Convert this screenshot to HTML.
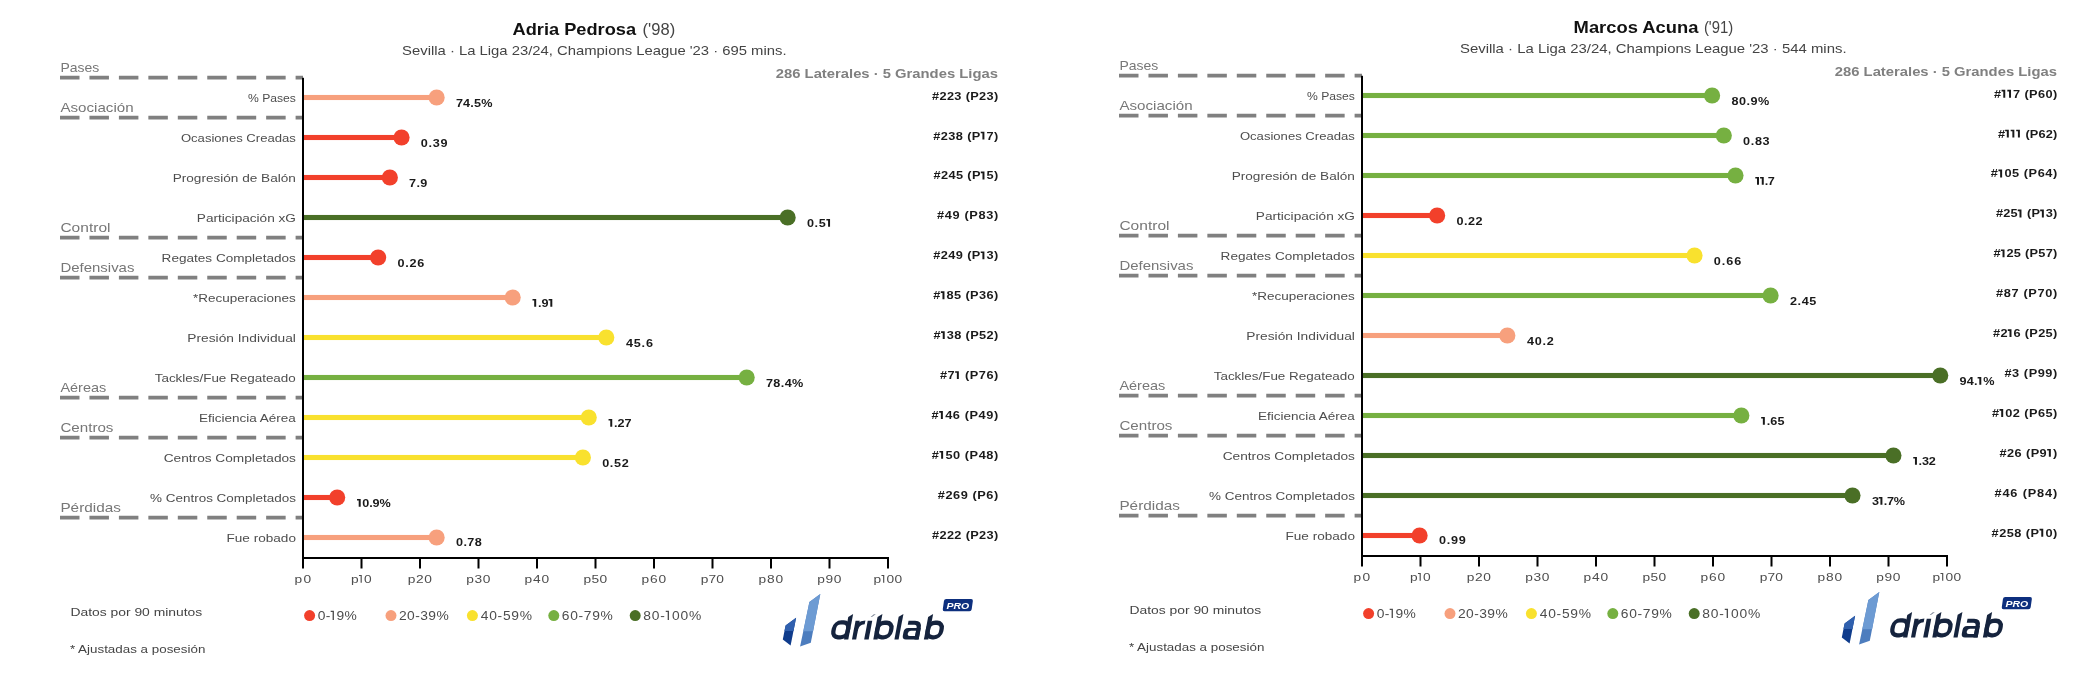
<!DOCTYPE html>
<html><head><meta charset="utf-8"><style>
html,body{margin:0;padding:0;background:#fff;width:2083px;height:674px;overflow:hidden}
svg{display:block;will-change:transform}
text{font-family:"Liberation Sans",sans-serif}
</style></head><body>
<svg width="2083" height="674" viewBox="0 0 2083 674">
<rect width="2083" height="674" fill="#fff"/>
<g transform="translate(0,0)"><text transform="translate(512.50,34.80) scale(1.1400,1)" font-size="16" fill="#111" font-weight="bold">Adria Pedrosa</text><text transform="translate(642.60,34.80) scale(1.0348,1)" font-size="16" fill="#444">('98)</text><text transform="translate(402.10,54.60) scale(1.1688,1)" font-size="12.7" fill="#444">Sevilla · La Liga 23/24, Champions League '23 · 695 mins.</text><text transform="translate(775.80,77.90) scale(1.1395,1)" font-size="13" fill="#808080" font-weight="bold">286 Laterales · 5 Grandes Ligas</text><line x1="60" y1="77.6" x2="303" y2="77.6" stroke="#808080" stroke-width="3.6" stroke-dasharray="19.5 9.95"/><text transform="translate(60.40,71.80) scale(1.1198,1)" font-size="12.5" fill="#777">Pases</text><line x1="60" y1="117.6" x2="303" y2="117.6" stroke="#808080" stroke-width="3.6" stroke-dasharray="19.5 9.95"/><text transform="translate(60.40,111.80) scale(1.2109,1)" font-size="12.5" fill="#777">Asociación</text><line x1="60" y1="237.6" x2="303" y2="237.6" stroke="#808080" stroke-width="3.6" stroke-dasharray="19.5 9.95"/><text transform="translate(60.40,231.80) scale(1.2432,1)" font-size="12.5" fill="#777">Control</text><line x1="60" y1="277.6" x2="303" y2="277.6" stroke="#808080" stroke-width="3.6" stroke-dasharray="19.5 9.95"/><text transform="translate(60.40,271.80) scale(1.1983,1)" font-size="12.5" fill="#777">Defensivas</text><line x1="60" y1="397.6" x2="303" y2="397.6" stroke="#808080" stroke-width="3.6" stroke-dasharray="19.5 9.95"/><text transform="translate(60.40,391.80) scale(1.1591,1)" font-size="12.5" fill="#777">Aéreas</text><line x1="60" y1="437.6" x2="303" y2="437.6" stroke="#808080" stroke-width="3.6" stroke-dasharray="19.5 9.95"/><text transform="translate(60.40,431.80) scale(1.2134,1)" font-size="12.5" fill="#777">Centros</text><line x1="60" y1="517.6" x2="303" y2="517.6" stroke="#808080" stroke-width="3.6" stroke-dasharray="19.5 9.95"/><text transform="translate(60.40,511.80) scale(1.2262,1)" font-size="12.5" fill="#777">Pérdidas</text><rect x="304" y="94.95" width="132.65" height="5.1" fill="#F7A07D"/><circle cx="436.65" cy="97.50" r="8.05" fill="#F7A07D"/><text transform="translate(248.00,101.90) scale(1.1058,1)" font-size="11" fill="#4d4d4d">% Pases</text><text transform="translate(455.91,106.80) scale(1.1500,1)" x="0.00 6.25 12.50 15.69 21.94" font-size="11" fill="#1a1a1a" font-weight="bold" xml:space="preserve">74.5%</text><text transform="translate(932.08,99.66) scale(1.1600,1)" x="0.00 6.41 12.81 19.22 25.63 28.97 32.93 40.55 46.96 53.37" font-size="11" fill="#1a1a1a" font-weight="bold" xml:space="preserve">#223 (P23)</text><rect x="304" y="134.95" width="97.55" height="5.1" fill="#F2402B"/><circle cx="401.55" cy="137.50" r="8.05" fill="#F2402B"/><text transform="translate(180.90,141.90) scale(1.1915,1)" font-size="11" fill="#4d4d4d">Ocasiones Creadas</text><text transform="translate(420.86,146.80) scale(1.1500,1)" x="0.00 6.74 10.42 17.15" font-size="11" fill="#1a1a1a" font-weight="bold" xml:space="preserve">0.39</text><text transform="translate(933.28,139.57) scale(1.1600,1)" x="0.00 6.46 12.91 19.37 25.82 29.22 33.22" font-size="11" fill="#1a1a1a" font-weight="bold" xml:space="preserve">#238 (P</text><path d="M980.72,131.69L984.40,131.69L984.40,139.57L982.42,139.57L982.42,133.34L980.72,133.34Z" fill="#1a1a1a"/><text transform="translate(986.50,139.57) scale(1.1600,1)" x="0.00 6.46" font-size="11" fill="#1a1a1a" font-weight="bold" xml:space="preserve">7)</text><rect x="304" y="174.95" width="85.85" height="5.1" fill="#F2402B"/><circle cx="389.85" cy="177.50" r="8.05" fill="#F2402B"/><text transform="translate(172.70,181.90) scale(1.2369,1)" font-size="11" fill="#4d4d4d">Progresión de Balón</text><text transform="translate(409.11,186.80) scale(1.1500,1)" x="0.00 6.39 9.72" font-size="11" fill="#1a1a1a" font-weight="bold" xml:space="preserve">7.9</text><text transform="translate(933.58,179.48) scale(1.1600,1)" x="0.00 6.43 12.85 19.28 25.71 29.07 33.05" font-size="11" fill="#1a1a1a" font-weight="bold" xml:space="preserve">#245 (P</text><path d="M980.79,171.60L984.47,171.60L984.47,179.48L982.49,179.48L982.49,173.25L980.79,173.25Z" fill="#1a1a1a"/><text transform="translate(986.53,179.48) scale(1.1600,1)" x="0.00 6.43" font-size="11" fill="#1a1a1a" font-weight="bold" xml:space="preserve">5)</text><rect x="304" y="214.95" width="483.65" height="5.1" fill="#4A6F26"/><circle cx="787.65" cy="217.50" r="8.05" fill="#4A6F26"/><text transform="translate(196.80,221.90) scale(1.2386,1)" font-size="11" fill="#4d4d4d">Participación xG</text><text transform="translate(806.96,226.80) scale(1.1500,1)" x="0.00 6.65 10.23" font-size="11" fill="#1a1a1a" font-weight="bold" xml:space="preserve">0.5</text><path d="M826.37,218.92L830.05,218.92L830.05,226.80L828.07,226.80L828.07,220.57L826.37,220.57Z" fill="#1a1a1a"/><text transform="translate(936.98,219.39) scale(1.1600,1)" x="0.00 6.68 13.36 20.04 23.66 27.88 35.78 42.46 49.14" font-size="11" fill="#1a1a1a" font-weight="bold" xml:space="preserve">#49 (P83)</text><rect x="304" y="254.95" width="74.15" height="5.1" fill="#F2402B"/><circle cx="378.15" cy="257.50" r="8.05" fill="#F2402B"/><text transform="translate(161.60,261.90) scale(1.2348,1)" font-size="11" fill="#4d4d4d">Regates Completados</text><text transform="translate(397.46,266.80) scale(1.1500,1)" x="0.00 6.74 10.41 17.14" font-size="11" fill="#1a1a1a" font-weight="bold" xml:space="preserve">0.26</text><text transform="translate(933.28,259.30) scale(1.1600,1)" x="0.00 6.46 12.91 19.37 25.82 29.22 33.22" font-size="11" fill="#1a1a1a" font-weight="bold" xml:space="preserve">#249 (P</text><path d="M980.72,251.42L984.40,251.42L984.40,259.30L982.42,259.30L982.42,253.07L980.72,253.07Z" fill="#1a1a1a"/><text transform="translate(986.50,259.30) scale(1.1600,1)" x="0.00 6.46" font-size="11" fill="#1a1a1a" font-weight="bold" xml:space="preserve">3)</text><rect x="304" y="294.95" width="208.70" height="5.1" fill="#F7A07D"/><circle cx="512.70" cy="297.50" r="8.05" fill="#F7A07D"/><text transform="translate(193.10,301.90) scale(1.2283,1)" font-size="11" fill="#4d4d4d">*Recuperaciones</text><path d="M532.50,298.92L536.19,298.92L536.19,306.80L534.21,306.80L534.21,300.57L532.50,300.57Z" fill="#1a1a1a"/><text transform="translate(537.95,306.80) scale(1.1500,1)" x="0.00 3.11" font-size="11" fill="#1a1a1a" font-weight="bold" xml:space="preserve">.9</text><path d="M548.62,298.92L552.30,298.92L552.30,306.80L550.32,306.80L550.32,300.57L548.62,300.57Z" fill="#1a1a1a"/><text transform="translate(933.28,299.21) scale(1.1600,1)" x="0.00" font-size="11" fill="#1a1a1a" font-weight="bold" xml:space="preserve">#</text><path d="M940.77,291.33L944.46,291.33L944.46,299.21L942.48,299.21L942.48,292.98L940.77,292.98Z" fill="#1a1a1a"/><text transform="translate(946.55,299.21) scale(1.1600,1)" x="0.00 6.46 12.91 16.31 20.31 27.98 34.44 40.89" font-size="11" fill="#1a1a1a" font-weight="bold" xml:space="preserve">85 (P36)</text><rect x="304" y="334.95" width="302.30" height="5.1" fill="#F9E12E"/><circle cx="606.30" cy="337.50" r="8.05" fill="#F9E12E"/><text transform="translate(187.30,341.90) scale(1.2518,1)" font-size="11" fill="#4d4d4d">Presión Individual</text><text transform="translate(625.91,346.80) scale(1.1500,1)" x="0.00 6.82 13.64 17.40" font-size="11" fill="#1a1a1a" font-weight="bold" xml:space="preserve">45.6</text><text transform="translate(933.58,339.12) scale(1.1600,1)" x="0.00" font-size="11" fill="#1a1a1a" font-weight="bold" xml:space="preserve">#</text><path d="M941.04,331.24L944.72,331.24L944.72,339.12L942.74,339.12L942.74,332.89L941.04,332.89Z" fill="#1a1a1a"/><text transform="translate(946.79,339.12) scale(1.1600,1)" x="0.00 6.43 12.85 16.22 20.19 27.84 34.26 40.69" font-size="11" fill="#1a1a1a" font-weight="bold" xml:space="preserve">38 (P52)</text><rect x="304" y="374.95" width="442.70" height="5.1" fill="#76B041"/><circle cx="746.70" cy="377.50" r="8.05" fill="#76B041"/><text transform="translate(154.70,381.90) scale(1.2227,1)" font-size="11" fill="#4d4d4d">Tackles/Fue Regateado</text><text transform="translate(765.96,386.80) scale(1.1500,1)" x="0.00 6.45 12.89 16.27 22.72" font-size="11" fill="#1a1a1a" font-weight="bold" xml:space="preserve">78.4%</text><text transform="translate(939.98,379.03) scale(1.1600,1)" x="0.00 6.54" font-size="11" fill="#1a1a1a" font-weight="bold" xml:space="preserve">#7</text><path d="M955.16,371.15L958.84,371.15L958.84,379.03L956.86,379.03L956.86,372.80L955.16,372.80Z" fill="#1a1a1a"/><text transform="translate(961.04,379.03) scale(1.1600,1)" x="0.00 3.48 7.57 15.32 21.87 28.41" font-size="11" fill="#1a1a1a" font-weight="bold" xml:space="preserve"> (P76)</text><rect x="304" y="414.95" width="284.75" height="5.1" fill="#F9E12E"/><circle cx="588.75" cy="417.50" r="8.05" fill="#F9E12E"/><text transform="translate(199.10,421.90) scale(1.2283,1)" font-size="11" fill="#4d4d4d">Eficiencia Aérea</text><path d="M608.55,418.92L612.24,418.92L612.24,426.80L610.25,426.80L610.25,420.57L608.55,420.57Z" fill="#1a1a1a"/><text transform="translate(613.93,426.80) scale(1.1500,1)" x="0.00 3.05 9.16" font-size="11" fill="#1a1a1a" font-weight="bold" xml:space="preserve">.27</text><text transform="translate(931.48,418.94) scale(1.1600,1)" x="0.00" font-size="11" fill="#1a1a1a" font-weight="bold" xml:space="preserve">#</text><path d="M939.17,411.06L942.86,411.06L942.86,418.94L940.88,418.94L940.88,412.71L939.17,412.71Z" fill="#1a1a1a"/><text transform="translate(945.15,418.94) scale(1.1600,1)" x="0.00 6.63 13.26 16.82 21.00 28.84 35.47 42.10" font-size="11" fill="#1a1a1a" font-weight="bold" xml:space="preserve">46 (P49)</text><rect x="304" y="454.95" width="278.90" height="5.1" fill="#F9E12E"/><circle cx="582.90" cy="457.50" r="8.05" fill="#F9E12E"/><text transform="translate(163.70,461.90) scale(1.2436,1)" font-size="11" fill="#4d4d4d">Centros Completados</text><text transform="translate(602.21,466.80) scale(1.1500,1)" x="0.00 6.66 10.26 16.93" font-size="11" fill="#1a1a1a" font-weight="bold" xml:space="preserve">0.52</text><text transform="translate(931.78,458.85) scale(1.1600,1)" x="0.00" font-size="11" fill="#1a1a1a" font-weight="bold" xml:space="preserve">#</text><path d="M939.44,450.97L943.12,450.97L943.12,458.85L941.14,458.85L941.14,452.62L939.44,452.62Z" fill="#1a1a1a"/><text transform="translate(945.39,458.85) scale(1.1600,1)" x="0.00 6.60 13.20 16.74 20.88 28.70 35.30 41.90" font-size="11" fill="#1a1a1a" font-weight="bold" xml:space="preserve">50 (P48)</text><rect x="304" y="494.95" width="33.20" height="5.1" fill="#F2402B"/><circle cx="337.20" cy="497.50" r="8.05" fill="#F2402B"/><text transform="translate(150.10,501.90) scale(1.2238,1)" font-size="11" fill="#4d4d4d">% Centros Completados</text><path d="M357.00,498.92L360.69,498.92L360.69,506.80L358.71,506.80L358.71,500.57L357.00,500.57Z" fill="#1a1a1a"/><text transform="translate(362.27,506.80) scale(1.1500,1)" x="0.00 6.01 8.96 14.97" font-size="11" fill="#1a1a1a" font-weight="bold" xml:space="preserve">0.9%</text><text transform="translate(937.78,498.76) scale(1.1600,1)" x="0.00 6.59 13.19 19.78 26.38 29.91 34.05 41.86 48.45" font-size="11" fill="#1a1a1a" font-weight="bold" xml:space="preserve">#269 (P6)</text><rect x="304" y="534.95" width="132.65" height="5.1" fill="#F7A07D"/><circle cx="436.65" cy="537.50" r="8.05" fill="#F7A07D"/><text transform="translate(226.50,541.90) scale(1.2352,1)" font-size="11" fill="#4d4d4d">Fue robado</text><text transform="translate(455.96,545.80) scale(1.1500,1)" x="0.00 6.48 9.91 16.39" font-size="11" fill="#1a1a1a" font-weight="bold" xml:space="preserve">0.78</text><text transform="translate(932.08,538.67) scale(1.1600,1)" x="0.00 6.41 12.81 19.22 25.63 28.97 32.93 40.55 46.96 53.37" font-size="11" fill="#1a1a1a" font-weight="bold" xml:space="preserve">#222 (P23)</text><rect x="302" y="77.8" width="2" height="481.2" fill="#000"/><rect x="302" y="557" width="587" height="2" fill="#000"/><rect x="302.0" y="557" width="2" height="11.5" fill="#000"/><text transform="translate(294.52,582.80) scale(1.2500,1)" x="0.00 7.18" font-size="11" fill="#4d4d4d" xml:space="preserve">p0</text><rect x="360.5" y="557" width="2" height="11.5" fill="#000"/><text transform="translate(351.02,582.80) scale(1.2500,1)" x="0.00" font-size="11" fill="#4d4d4d" xml:space="preserve">p</text><path d="M358.96,574.92L361.77,574.92L361.77,582.80L360.61,582.80L360.61,576.02L358.96,576.02Z" fill="#4d4d4d"/><text transform="translate(363.99,582.80) scale(1.2500,1)" x="0.00" font-size="11" fill="#4d4d4d" xml:space="preserve">0</text><rect x="419.0" y="557" width="2" height="11.5" fill="#000"/><text transform="translate(407.87,582.80) scale(1.2500,1)" x="0.00 6.51 13.02" font-size="11" fill="#4d4d4d" xml:space="preserve">p20</text><rect x="477.5" y="557" width="2" height="11.5" fill="#000"/><text transform="translate(466.37,582.80) scale(1.2500,1)" x="0.00 6.51 13.02" font-size="11" fill="#4d4d4d" xml:space="preserve">p30</text><rect x="536.0" y="557" width="2" height="11.5" fill="#000"/><text transform="translate(524.62,582.80) scale(1.2500,1)" x="0.00 6.71 13.42" font-size="11" fill="#4d4d4d" xml:space="preserve">p40</text><rect x="594.5" y="557" width="2" height="11.5" fill="#000"/><text transform="translate(583.42,582.80) scale(1.2500,1)" x="0.00 6.47 12.94" font-size="11" fill="#4d4d4d" xml:space="preserve">p50</text><rect x="653.0" y="557" width="2" height="11.5" fill="#000"/><text transform="translate(641.62,582.80) scale(1.2500,1)" x="0.00 6.71 13.42" font-size="11" fill="#4d4d4d" xml:space="preserve">p60</text><rect x="711.5" y="557" width="2" height="11.5" fill="#000"/><text transform="translate(700.77,582.80) scale(1.2500,1)" x="0.00 6.19 12.38" font-size="11" fill="#4d4d4d" xml:space="preserve">p70</text><rect x="770.0" y="557" width="2" height="11.5" fill="#000"/><text transform="translate(758.62,582.80) scale(1.2500,1)" x="0.00 6.71 13.42" font-size="11" fill="#4d4d4d" xml:space="preserve">p80</text><rect x="828.5" y="557" width="2" height="11.5" fill="#000"/><text transform="translate(817.17,582.80) scale(1.2500,1)" x="0.00 6.67 13.34" font-size="11" fill="#4d4d4d" xml:space="preserve">p90</text><rect x="887.0" y="557" width="2" height="11.5" fill="#000"/><text transform="translate(873.47,582.80) scale(1.2500,1)" x="0.00" font-size="11" fill="#4d4d4d" xml:space="preserve">p</text><path d="M881.47,574.92L884.27,574.92L884.27,582.80L883.12,582.80L883.12,576.02L881.47,576.02Z" fill="#4d4d4d"/><text transform="translate(886.55,582.80) scale(1.2500,1)" x="0.00 6.40" font-size="11" fill="#4d4d4d" xml:space="preserve">00</text><circle cx="309.6" cy="615.6" r="5.5" fill="#F2402B"/><text transform="translate(317.76,619.90) scale(1.0800,1)" x="0.00 7.41" font-size="12.8" fill="#4d4d4d" xml:space="preserve">0-</text><path d="M330.68,610.74L333.94,610.74L333.94,619.90L332.60,619.90L332.60,612.02L330.68,612.02Z" fill="#4d4d4d"/><text transform="translate(336.49,619.90) scale(1.0800,1)" x="0.00 7.41" font-size="12.8" fill="#4d4d4d" xml:space="preserve">9%</text><circle cx="391.0" cy="615.6" r="5.5" fill="#F7A07D"/><text transform="translate(399.01,619.90) scale(1.0800,1)" x="0.00 7.51 15.03 19.68 27.20 34.71" font-size="12.8" fill="#4d4d4d" xml:space="preserve">20-39%</text><circle cx="472.4" cy="615.6" r="5.5" fill="#F9E12E"/><text transform="translate(480.78,619.90) scale(1.0800,1)" x="0.00 7.78 15.55 20.48 28.25 36.03" font-size="12.8" fill="#4d4d4d" xml:space="preserve">40-59%</text><circle cx="553.8" cy="615.6" r="5.5" fill="#76B041"/><text transform="translate(561.79,619.90) scale(1.0800,1)" x="0.00 7.76 15.51 20.41 28.17 35.93" font-size="12.8" fill="#4d4d4d" xml:space="preserve">60-79%</text><circle cx="635.2" cy="615.6" r="5.5" fill="#4A6F26"/><text transform="translate(643.31,619.90) scale(1.0800,1)" x="0.00 7.88 15.76" font-size="12.8" fill="#4d4d4d" xml:space="preserve">80-</text><path d="M665.75,610.74L669.01,610.74L669.01,619.90L667.67,619.90L667.67,612.02L665.75,612.02Z" fill="#4d4d4d"/><text transform="translate(672.08,619.90) scale(1.0800,1)" x="0.00 7.88 15.76" font-size="12.8" fill="#4d4d4d" xml:space="preserve">00%</text><text transform="translate(70.40,615.80) scale(1.2615,1)" font-size="11" fill="#444">Datos por 90 minutos</text><text transform="translate(69.90,652.60) scale(1.2175,1)" font-size="11" fill="#444">* Ajustadas a posesión</text><polygon points="796.1,617.8 785.6,625.6 782.8,639.5 790.6,645.6" fill="#0F3C8C"/><polygon points="796.1,617.8 785.6,625.6 784.51,631 793.49,631" fill="#3060AE"/><polygon points="820.3,594.0 809.4,602.0 800.1,646.6 810.8,642.8" fill="#4D7DBE"/><polygon points="820.3,594.0 809.4,602.0 803.31,631.2 813.06,631.2" fill="#6D9BD3"/><g transform="translate(0,639.4) skewX(-10.76) translate(0,-639.4)"><rect x="831.85" y="622.45" width="14.30" height="14.90" rx="6" fill="none" stroke="#15233D" stroke-width="4.3"/><polygon points="844.0,617.1 848.3,614.0 848.3,639.5 844.0,639.5" fill="#15233D"/><rect x="852.0" y="620.8" width="4.2" height="18.7" fill="#15233D"/><path d="M854.1,631 Q854.1,622.3 861.8,622.3" fill="none" stroke="#15233D" stroke-width="3.8"/><rect x="864.2" y="620.8" width="4.5" height="18.7" fill="#15233D"/><polygon points="866.4,616.9 867.6,616.9 871.0,614.2 869.0,614.2" fill="#7d8696"/><rect x="875.45" y="622.75" width="13.90" height="14.60" rx="6" fill="none" stroke="#15233D" stroke-width="4.3"/><polygon points="873.3,617.1 877.6,614.0 877.6,639.5 873.3,639.5" fill="#15233D"/><polygon points="894.4,616.8 898.6,614.0 898.6,639.5 894.4,639.5" fill="#15233D"/><path d="M905.0,622.75 L911.5,622.75 Q916.5,622.75 916.5,628 L916.5,639.5" fill="none" stroke="#15233D" stroke-width="4.2"/><path fill-rule="evenodd" d="M906,628.0 L918.6,628.0 L918.6,639.5 L906,639.5 Q902.1,639.5 902.1,635.6 L902.1,631.9 Q902.1,628.0 906,628.0 Z M909.2,630.7 L914.5,630.7 L914.5,636.1 L909.2,636.1 Q906.7,636.1 906.7,633.6 L906.7,633.2 Q906.7,630.7 909.2,630.7 Z" fill="#15233D"/><rect x="926.1" y="622.75" width="13.55" height="14.60" rx="6" fill="none" stroke="#15233D" stroke-width="4.3"/><polygon points="923.9,617.1 928.3,614.0 928.3,639.5 923.9,639.5" fill="#15233D"/></g><rect x="943.4" y="598.9" width="28.9" height="12.3" rx="2" fill="#0D2F7E" transform="skewX(-8) translate(85,0)"/><text transform="translate(946.40,608.80) scale(1.1313,1)" font-size="9.3" fill="#fff" font-weight="bold" font-style="italic">PRO</text></g>
<g transform="translate(1059,-2)"><text transform="translate(514.60,34.80) scale(1.1481,1)" font-size="16" fill="#111" font-weight="bold">Marcos Acuna</text><text transform="translate(644.90,34.80) scale(0.9300,1)" font-size="16" fill="#444">('91)</text><text transform="translate(401.00,54.60) scale(1.1746,1)" font-size="12.7" fill="#444">Sevilla · La Liga 23/24, Champions League '23 · 544 mins.</text><text transform="translate(775.80,77.90) scale(1.1395,1)" font-size="13" fill="#808080" font-weight="bold">286 Laterales · 5 Grandes Ligas</text><line x1="60" y1="77.6" x2="303" y2="77.6" stroke="#808080" stroke-width="3.6" stroke-dasharray="19.5 9.95"/><text transform="translate(60.40,71.80) scale(1.1198,1)" font-size="12.5" fill="#777">Pases</text><line x1="60" y1="117.6" x2="303" y2="117.6" stroke="#808080" stroke-width="3.6" stroke-dasharray="19.5 9.95"/><text transform="translate(60.40,111.80) scale(1.2109,1)" font-size="12.5" fill="#777">Asociación</text><line x1="60" y1="237.6" x2="303" y2="237.6" stroke="#808080" stroke-width="3.6" stroke-dasharray="19.5 9.95"/><text transform="translate(60.40,231.80) scale(1.2432,1)" font-size="12.5" fill="#777">Control</text><line x1="60" y1="277.6" x2="303" y2="277.6" stroke="#808080" stroke-width="3.6" stroke-dasharray="19.5 9.95"/><text transform="translate(60.40,271.80) scale(1.1983,1)" font-size="12.5" fill="#777">Defensivas</text><line x1="60" y1="397.6" x2="303" y2="397.6" stroke="#808080" stroke-width="3.6" stroke-dasharray="19.5 9.95"/><text transform="translate(60.40,391.80) scale(1.1591,1)" font-size="12.5" fill="#777">Aéreas</text><line x1="60" y1="437.6" x2="303" y2="437.6" stroke="#808080" stroke-width="3.6" stroke-dasharray="19.5 9.95"/><text transform="translate(60.40,431.80) scale(1.2134,1)" font-size="12.5" fill="#777">Centros</text><line x1="60" y1="517.6" x2="303" y2="517.6" stroke="#808080" stroke-width="3.6" stroke-dasharray="19.5 9.95"/><text transform="translate(60.40,511.80) scale(1.2262,1)" font-size="12.5" fill="#777">Pérdidas</text><rect x="304" y="94.95" width="349.10" height="5.1" fill="#76B041"/><circle cx="653.10" cy="97.50" r="8.05" fill="#76B041"/><text transform="translate(248.00,101.90) scale(1.1058,1)" font-size="11" fill="#4d4d4d">% Pases</text><text transform="translate(672.50,106.80) scale(1.1500,1)" x="0.00 6.52 13.05 16.51 23.03" font-size="11" fill="#1a1a1a" font-weight="bold" xml:space="preserve">80.9%</text><text transform="translate(935.08,99.66) scale(1.1600,1)" x="0.00" font-size="11" fill="#1a1a1a" font-weight="bold" xml:space="preserve">#</text><path d="M942.56,91.78L946.25,91.78L946.25,99.66L944.27,99.66L944.27,93.43L942.56,93.43Z" fill="#1a1a1a"/><path d="M948.33,91.78L952.02,91.78L952.02,99.66L950.04,99.66L950.04,93.43L948.33,93.43Z" fill="#1a1a1a"/><text transform="translate(954.10,99.66) scale(1.1600,1)" x="0.00 6.45 9.83 13.82 21.49 27.94 34.38" font-size="11" fill="#1a1a1a" font-weight="bold" xml:space="preserve">7 (P60)</text><rect x="304" y="134.95" width="360.80" height="5.1" fill="#76B041"/><circle cx="664.80" cy="137.50" r="8.05" fill="#76B041"/><text transform="translate(180.90,141.90) scale(1.1915,1)" font-size="11" fill="#4d4d4d">Ocasiones Creadas</text><text transform="translate(684.11,146.80) scale(1.1500,1)" x="0.00 6.68 10.29 16.97" font-size="11" fill="#1a1a1a" font-weight="bold" xml:space="preserve">0.83</text><text transform="translate(938.88,139.57) scale(1.1600,1)" x="0.00" font-size="11" fill="#1a1a1a" font-weight="bold" xml:space="preserve">#</text><path d="M946.13,131.69L949.81,131.69L949.81,139.57L947.83,139.57L947.83,133.34L946.13,133.34Z" fill="#1a1a1a"/><path d="M951.67,131.69L955.35,131.69L955.35,139.57L953.37,139.57L953.37,133.34L951.67,133.34Z" fill="#1a1a1a"/><path d="M957.21,131.69L960.89,131.69L960.89,139.57L958.91,139.57L958.91,133.34L957.21,133.34Z" fill="#1a1a1a"/><text transform="translate(962.75,139.57) scale(1.1600,1)" x="0.00 3.18 6.98 14.44 20.69 26.93" font-size="11" fill="#1a1a1a" font-weight="bold" xml:space="preserve"> (P62)</text><rect x="304" y="174.95" width="372.50" height="5.1" fill="#76B041"/><circle cx="676.50" cy="177.50" r="8.05" fill="#76B041"/><text transform="translate(172.70,181.90) scale(1.2369,1)" font-size="11" fill="#4d4d4d">Progresión de Balón</text><path d="M696.30,178.92L699.99,178.92L699.99,186.80L698.00,186.80L698.00,180.57L696.30,180.57Z" fill="#1a1a1a"/><path d="M701.07,178.92L704.75,178.92L704.75,186.80L702.77,186.80L702.77,180.57L701.07,180.57Z" fill="#1a1a1a"/><text transform="translate(705.83,186.80) scale(1.1500,1)" x="0.00 2.51" font-size="11" fill="#1a1a1a" font-weight="bold" xml:space="preserve">.7</text><text transform="translate(931.78,179.48) scale(1.1600,1)" x="0.00" font-size="11" fill="#1a1a1a" font-weight="bold" xml:space="preserve">#</text><path d="M939.44,171.60L943.12,171.60L943.12,179.48L941.14,179.48L941.14,173.25L939.44,173.25Z" fill="#1a1a1a"/><text transform="translate(945.39,179.48) scale(1.1600,1)" x="0.00 6.60 13.20 16.74 20.88 28.70 35.30 41.90" font-size="11" fill="#1a1a1a" font-weight="bold" xml:space="preserve">05 (P64)</text><rect x="304" y="214.95" width="74.15" height="5.1" fill="#F2402B"/><circle cx="378.15" cy="217.50" r="8.05" fill="#F2402B"/><text transform="translate(196.80,221.90) scale(1.2386,1)" font-size="11" fill="#4d4d4d">Participación xG</text><text transform="translate(397.46,226.80) scale(1.1500,1)" x="0.00 6.52 9.97 16.49" font-size="11" fill="#1a1a1a" font-weight="bold" xml:space="preserve">0.22</text><text transform="translate(936.98,219.39) scale(1.1600,1)" x="0.00 6.26 12.53" font-size="11" fill="#1a1a1a" font-weight="bold" xml:space="preserve">#25</text><path d="M958.78,211.51L962.47,211.51L962.47,219.39L960.49,219.39L960.49,213.16L958.78,213.16Z" fill="#1a1a1a"/><text transform="translate(964.34,219.39) scale(1.1600,1)" x="0.00 3.20 7.01" font-size="11" fill="#1a1a1a" font-weight="bold" xml:space="preserve"> (P</text><path d="M981.16,211.51L984.85,211.51L984.85,219.39L982.87,219.39L982.87,213.16L981.16,213.16Z" fill="#1a1a1a"/><text transform="translate(986.72,219.39) scale(1.1600,1)" x="0.00 6.26" font-size="11" fill="#1a1a1a" font-weight="bold" xml:space="preserve">3)</text><rect x="304" y="254.95" width="331.55" height="5.1" fill="#F9E12E"/><circle cx="635.55" cy="257.50" r="8.05" fill="#F9E12E"/><text transform="translate(161.60,261.90) scale(1.2348,1)" font-size="11" fill="#4d4d4d">Regates Completados</text><text transform="translate(654.86,266.80) scale(1.1500,1)" x="0.00 6.94 10.81 17.75" font-size="11" fill="#1a1a1a" font-weight="bold" xml:space="preserve">0.66</text><text transform="translate(934.48,259.30) scale(1.1600,1)" x="0.00" font-size="11" fill="#1a1a1a" font-weight="bold" xml:space="preserve">#</text><path d="M941.84,251.42L945.52,251.42L945.52,259.30L943.54,259.30L943.54,253.07L941.84,253.07Z" fill="#1a1a1a"/><text transform="translate(947.49,259.30) scale(1.1600,1)" x="0.00 6.34 12.68 15.96 19.85 27.41 33.75 40.09" font-size="11" fill="#1a1a1a" font-weight="bold" xml:space="preserve">25 (P57)</text><rect x="304" y="294.95" width="407.60" height="5.1" fill="#76B041"/><circle cx="711.60" cy="297.50" r="8.05" fill="#76B041"/><text transform="translate(193.10,301.90) scale(1.2283,1)" font-size="11" fill="#4d4d4d">*Recuperaciones</text><text transform="translate(730.96,306.80) scale(1.1500,1)" x="0.00 6.63 10.20 16.84" font-size="11" fill="#1a1a1a" font-weight="bold" xml:space="preserve">2.45</text><text transform="translate(936.98,299.21) scale(1.1600,1)" x="0.00 6.68 13.36 20.04 23.66 27.88 35.78 42.46 49.14" font-size="11" fill="#1a1a1a" font-weight="bold" xml:space="preserve">#87 (P70)</text><rect x="304" y="334.95" width="144.35" height="5.1" fill="#F7A07D"/><circle cx="448.35" cy="337.50" r="8.05" fill="#F7A07D"/><text transform="translate(187.30,341.90) scale(1.2518,1)" font-size="11" fill="#4d4d4d">Presión Individual</text><text transform="translate(467.96,346.80) scale(1.1500,1)" x="0.00 6.75 13.50 17.18" font-size="11" fill="#1a1a1a" font-weight="bold" xml:space="preserve">40.2</text><text transform="translate(933.98,339.12) scale(1.1600,1)" x="0.00 6.39" font-size="11" fill="#1a1a1a" font-weight="bold" xml:space="preserve">#2</text><path d="M948.80,331.24L952.49,331.24L952.49,339.12L950.51,339.12L950.51,332.89L948.80,332.89Z" fill="#1a1a1a"/><text transform="translate(954.51,339.12) scale(1.1600,1)" x="0.00 6.39 9.72 13.65 21.26 27.65 34.03" font-size="11" fill="#1a1a1a" font-weight="bold" xml:space="preserve">6 (P25)</text><rect x="304" y="374.95" width="577.25" height="5.1" fill="#4A6F26"/><circle cx="881.25" cy="377.50" r="8.05" fill="#4A6F26"/><text transform="translate(154.70,381.90) scale(1.2227,1)" font-size="11" fill="#4d4d4d">Tackles/Fue Regateado</text><text transform="translate(900.61,386.80) scale(1.1500,1)" x="0.00 6.24 12.47" font-size="11" fill="#1a1a1a" font-weight="bold" xml:space="preserve">94.</text><path d="M918.61,378.92L922.29,378.92L922.29,386.80L920.31,386.80L920.31,380.57L918.61,380.57Z" fill="#1a1a1a"/><text transform="translate(924.13,386.80) scale(1.1500,1)" x="0.00" font-size="11" fill="#1a1a1a" font-weight="bold" xml:space="preserve">%</text><text transform="translate(945.48,379.03) scale(1.1600,1)" x="0.00 6.59 13.17 16.70 20.83 28.64 35.23 41.82" font-size="11" fill="#1a1a1a" font-weight="bold" xml:space="preserve">#3 (P99)</text><rect x="304" y="414.95" width="378.35" height="5.1" fill="#76B041"/><circle cx="682.35" cy="417.50" r="8.05" fill="#76B041"/><text transform="translate(199.10,421.90) scale(1.2283,1)" font-size="11" fill="#4d4d4d">Eficiencia Aérea</text><path d="M702.15,418.92L705.84,418.92L705.84,426.80L703.86,426.80L703.86,420.57L702.15,420.57Z" fill="#1a1a1a"/><text transform="translate(707.70,426.80) scale(1.1500,1)" x="0.00 3.20 9.45" font-size="11" fill="#1a1a1a" font-weight="bold" xml:space="preserve">.65</text><text transform="translate(932.98,418.94) scale(1.1600,1)" x="0.00" font-size="11" fill="#1a1a1a" font-weight="bold" xml:space="preserve">#</text><path d="M940.50,411.06L944.19,411.06L944.19,418.94L942.21,418.94L942.21,412.71L940.50,412.71Z" fill="#1a1a1a"/><text transform="translate(946.32,418.94) scale(1.1600,1)" x="0.00 6.48 12.97 16.39 20.42 28.12 34.61 41.09" font-size="11" fill="#1a1a1a" font-weight="bold" xml:space="preserve">02 (P65)</text><rect x="304" y="454.95" width="530.45" height="5.1" fill="#4A6F26"/><circle cx="834.45" cy="457.50" r="8.05" fill="#4A6F26"/><text transform="translate(163.70,461.90) scale(1.2436,1)" font-size="11" fill="#4d4d4d">Centros Completados</text><path d="M854.25,458.92L857.94,458.92L857.94,466.80L855.96,466.80L855.96,460.57L854.25,460.57Z" fill="#1a1a1a"/><text transform="translate(859.52,466.80) scale(1.1500,1)" x="0.00 2.95 8.96" font-size="11" fill="#1a1a1a" font-weight="bold" xml:space="preserve">.32</text><text transform="translate(940.38,458.85) scale(1.1600,1)" x="0.00 6.50 12.99 19.49 22.93 26.97 34.69" font-size="11" fill="#1a1a1a" font-weight="bold" xml:space="preserve">#26 (P9</text><path d="M988.16,450.97L991.84,450.97L991.84,458.85L989.86,458.85L989.86,452.62L988.16,452.62Z" fill="#1a1a1a"/><text transform="translate(993.99,458.85) scale(1.1600,1)" x="0.00" font-size="11" fill="#1a1a1a" font-weight="bold" xml:space="preserve">)</text><rect x="304" y="494.95" width="489.50" height="5.1" fill="#4A6F26"/><circle cx="793.50" cy="497.50" r="8.05" fill="#4A6F26"/><text transform="translate(150.10,501.90) scale(1.2238,1)" font-size="11" fill="#4d4d4d">% Centros Completados</text><text transform="translate(813.01,506.80) scale(1.1500,1)" x="0.00" font-size="11" fill="#1a1a1a" font-weight="bold" xml:space="preserve">3</text><path d="M819.72,498.92L823.40,498.92L823.40,506.80L821.42,506.80L821.42,500.57L819.72,500.57Z" fill="#1a1a1a"/><text transform="translate(824.78,506.80) scale(1.1500,1)" x="0.00 2.77 8.61" font-size="11" fill="#1a1a1a" font-weight="bold" xml:space="preserve">.7%</text><text transform="translate(935.48,498.76) scale(1.1600,1)" x="0.00 6.84 13.68 20.52 24.30 28.69 36.75 43.59 50.44" font-size="11" fill="#1a1a1a" font-weight="bold" xml:space="preserve">#46 (P84)</text><rect x="304" y="534.95" width="56.60" height="5.1" fill="#F2402B"/><circle cx="360.60" cy="537.50" r="8.05" fill="#F2402B"/><text transform="translate(226.50,541.90) scale(1.2352,1)" font-size="11" fill="#4d4d4d">Fue robado</text><text transform="translate(379.91,545.80) scale(1.1500,1)" x="0.00 6.80 10.53 17.33" font-size="11" fill="#1a1a1a" font-weight="bold" xml:space="preserve">0.99</text><text transform="translate(932.58,538.67) scale(1.1600,1)" x="0.00 6.52 13.05 19.57 26.09 29.55 33.62" font-size="11" fill="#1a1a1a" font-weight="bold" xml:space="preserve">#258 (P</text><path d="M980.56,530.79L984.25,530.79L984.25,538.67L982.27,538.67L982.27,532.44L980.56,532.44Z" fill="#1a1a1a"/><text transform="translate(986.42,538.67) scale(1.1600,1)" x="0.00 6.52" font-size="11" fill="#1a1a1a" font-weight="bold" xml:space="preserve">0)</text><rect x="302" y="77.8" width="2" height="481.2" fill="#000"/><rect x="302" y="557" width="587" height="2" fill="#000"/><rect x="302.0" y="557" width="2" height="11.5" fill="#000"/><text transform="translate(294.52,582.80) scale(1.2500,1)" x="0.00 7.18" font-size="11" fill="#4d4d4d" xml:space="preserve">p0</text><rect x="360.5" y="557" width="2" height="11.5" fill="#000"/><text transform="translate(351.02,582.80) scale(1.2500,1)" x="0.00" font-size="11" fill="#4d4d4d" xml:space="preserve">p</text><path d="M358.96,574.92L361.77,574.92L361.77,582.80L360.61,582.80L360.61,576.02L358.96,576.02Z" fill="#4d4d4d"/><text transform="translate(363.99,582.80) scale(1.2500,1)" x="0.00" font-size="11" fill="#4d4d4d" xml:space="preserve">0</text><rect x="419.0" y="557" width="2" height="11.5" fill="#000"/><text transform="translate(407.87,582.80) scale(1.2500,1)" x="0.00 6.51 13.02" font-size="11" fill="#4d4d4d" xml:space="preserve">p20</text><rect x="477.5" y="557" width="2" height="11.5" fill="#000"/><text transform="translate(466.37,582.80) scale(1.2500,1)" x="0.00 6.51 13.02" font-size="11" fill="#4d4d4d" xml:space="preserve">p30</text><rect x="536.0" y="557" width="2" height="11.5" fill="#000"/><text transform="translate(524.62,582.80) scale(1.2500,1)" x="0.00 6.71 13.42" font-size="11" fill="#4d4d4d" xml:space="preserve">p40</text><rect x="594.5" y="557" width="2" height="11.5" fill="#000"/><text transform="translate(583.42,582.80) scale(1.2500,1)" x="0.00 6.47 12.94" font-size="11" fill="#4d4d4d" xml:space="preserve">p50</text><rect x="653.0" y="557" width="2" height="11.5" fill="#000"/><text transform="translate(641.62,582.80) scale(1.2500,1)" x="0.00 6.71 13.42" font-size="11" fill="#4d4d4d" xml:space="preserve">p60</text><rect x="711.5" y="557" width="2" height="11.5" fill="#000"/><text transform="translate(700.77,582.80) scale(1.2500,1)" x="0.00 6.19 12.38" font-size="11" fill="#4d4d4d" xml:space="preserve">p70</text><rect x="770.0" y="557" width="2" height="11.5" fill="#000"/><text transform="translate(758.62,582.80) scale(1.2500,1)" x="0.00 6.71 13.42" font-size="11" fill="#4d4d4d" xml:space="preserve">p80</text><rect x="828.5" y="557" width="2" height="11.5" fill="#000"/><text transform="translate(817.17,582.80) scale(1.2500,1)" x="0.00 6.67 13.34" font-size="11" fill="#4d4d4d" xml:space="preserve">p90</text><rect x="887.0" y="557" width="2" height="11.5" fill="#000"/><text transform="translate(873.47,582.80) scale(1.2500,1)" x="0.00" font-size="11" fill="#4d4d4d" xml:space="preserve">p</text><path d="M881.47,574.92L884.27,574.92L884.27,582.80L883.12,582.80L883.12,576.02L881.47,576.02Z" fill="#4d4d4d"/><text transform="translate(886.55,582.80) scale(1.2500,1)" x="0.00 6.40" font-size="11" fill="#4d4d4d" xml:space="preserve">00</text><circle cx="309.6" cy="615.6" r="5.5" fill="#F2402B"/><text transform="translate(317.76,619.90) scale(1.0800,1)" x="0.00 7.41" font-size="12.8" fill="#4d4d4d" xml:space="preserve">0-</text><path d="M330.68,610.74L333.94,610.74L333.94,619.90L332.60,619.90L332.60,612.02L330.68,612.02Z" fill="#4d4d4d"/><text transform="translate(336.49,619.90) scale(1.0800,1)" x="0.00 7.41" font-size="12.8" fill="#4d4d4d" xml:space="preserve">9%</text><circle cx="391.0" cy="615.6" r="5.5" fill="#F7A07D"/><text transform="translate(399.01,619.90) scale(1.0800,1)" x="0.00 7.51 15.03 19.68 27.20 34.71" font-size="12.8" fill="#4d4d4d" xml:space="preserve">20-39%</text><circle cx="472.4" cy="615.6" r="5.5" fill="#F9E12E"/><text transform="translate(480.78,619.90) scale(1.0800,1)" x="0.00 7.78 15.55 20.48 28.25 36.03" font-size="12.8" fill="#4d4d4d" xml:space="preserve">40-59%</text><circle cx="553.8" cy="615.6" r="5.5" fill="#76B041"/><text transform="translate(561.79,619.90) scale(1.0800,1)" x="0.00 7.76 15.51 20.41 28.17 35.93" font-size="12.8" fill="#4d4d4d" xml:space="preserve">60-79%</text><circle cx="635.2" cy="615.6" r="5.5" fill="#4A6F26"/><text transform="translate(643.31,619.90) scale(1.0800,1)" x="0.00 7.88 15.76" font-size="12.8" fill="#4d4d4d" xml:space="preserve">80-</text><path d="M665.75,610.74L669.01,610.74L669.01,619.90L667.67,619.90L667.67,612.02L665.75,612.02Z" fill="#4d4d4d"/><text transform="translate(672.08,619.90) scale(1.0800,1)" x="0.00 7.88 15.76" font-size="12.8" fill="#4d4d4d" xml:space="preserve">00%</text><text transform="translate(70.40,615.80) scale(1.2615,1)" font-size="11" fill="#444">Datos por 90 minutos</text><text transform="translate(69.90,652.60) scale(1.2175,1)" font-size="11" fill="#444">* Ajustadas a posesión</text><polygon points="796.1,617.8 785.6,625.6 782.8,639.5 790.6,645.6" fill="#0F3C8C"/><polygon points="796.1,617.8 785.6,625.6 784.51,631 793.49,631" fill="#3060AE"/><polygon points="820.3,594.0 809.4,602.0 800.1,646.6 810.8,642.8" fill="#4D7DBE"/><polygon points="820.3,594.0 809.4,602.0 803.31,631.2 813.06,631.2" fill="#6D9BD3"/><g transform="translate(0,639.4) skewX(-10.76) translate(0,-639.4)"><rect x="831.85" y="622.45" width="14.30" height="14.90" rx="6" fill="none" stroke="#15233D" stroke-width="4.3"/><polygon points="844.0,617.1 848.3,614.0 848.3,639.5 844.0,639.5" fill="#15233D"/><rect x="852.0" y="620.8" width="4.2" height="18.7" fill="#15233D"/><path d="M854.1,631 Q854.1,622.3 861.8,622.3" fill="none" stroke="#15233D" stroke-width="3.8"/><rect x="864.2" y="620.8" width="4.5" height="18.7" fill="#15233D"/><polygon points="866.4,616.9 867.6,616.9 871.0,614.2 869.0,614.2" fill="#7d8696"/><rect x="875.45" y="622.75" width="13.90" height="14.60" rx="6" fill="none" stroke="#15233D" stroke-width="4.3"/><polygon points="873.3,617.1 877.6,614.0 877.6,639.5 873.3,639.5" fill="#15233D"/><polygon points="894.4,616.8 898.6,614.0 898.6,639.5 894.4,639.5" fill="#15233D"/><path d="M905.0,622.75 L911.5,622.75 Q916.5,622.75 916.5,628 L916.5,639.5" fill="none" stroke="#15233D" stroke-width="4.2"/><path fill-rule="evenodd" d="M906,628.0 L918.6,628.0 L918.6,639.5 L906,639.5 Q902.1,639.5 902.1,635.6 L902.1,631.9 Q902.1,628.0 906,628.0 Z M909.2,630.7 L914.5,630.7 L914.5,636.1 L909.2,636.1 Q906.7,636.1 906.7,633.6 L906.7,633.2 Q906.7,630.7 909.2,630.7 Z" fill="#15233D"/><rect x="926.1" y="622.75" width="13.55" height="14.60" rx="6" fill="none" stroke="#15233D" stroke-width="4.3"/><polygon points="923.9,617.1 928.3,614.0 928.3,639.5 923.9,639.5" fill="#15233D"/></g><rect x="943.4" y="598.9" width="28.9" height="12.3" rx="2" fill="#0D2F7E" transform="skewX(-8) translate(85,0)"/><text transform="translate(946.40,608.80) scale(1.1313,1)" font-size="9.3" fill="#fff" font-weight="bold" font-style="italic">PRO</text></g>
</svg>
</body></html>
